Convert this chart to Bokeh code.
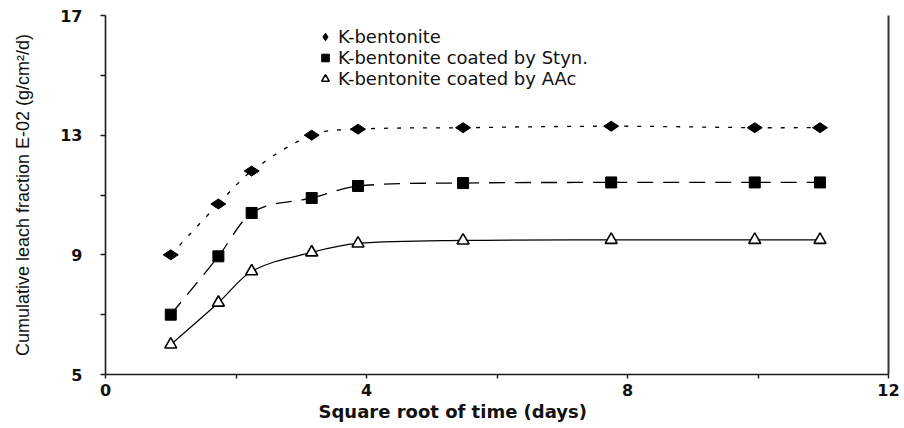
import math

from bokeh.embed import file_html
from bokeh.models import FixedTicker, Legend, LegendItem, LinearAxis, Range1d, Title
from bokeh.plotting import figure
from bokeh.resources import INLINE

# Cumulative leach fraction (E-02 g/cm2/d) against square root of time (days)
sqrt_time = [1.0, 1.73, 2.24, 3.16, 3.87, 5.48, 7.75, 9.95, 10.95]
k_bentonite = [9.0, 10.7, 11.8, 13.0, 13.2, 13.25, 13.3, 13.25, 13.25]
k_styn = [7.0, 8.95, 10.4, 10.9, 11.3, 11.4, 11.42, 11.42, 11.42]
k_aac = [6.0, 7.4, 8.45, 9.08, 9.38, 9.48, 9.5, 9.5, 9.5]

series_names = [
    "K-bentonite",
    "K-bentonite coated by Styn.",
    "K-bentonite coated by AAc",
]

x_major = [0, 4, 8, 12]
x_minor = [2, 6, 10]
y_major = [5, 9, 13, 17]
y_minor = [7, 11, 15]

TICK_FONT = "DejaVu Sans"


def smooth_segments(xs, ys):
    """Cubic Hermite pieces (as Bezier controls) passing through every point."""
    n = len(xs)
    slopes = []
    for i in range(n):
        a = max(i - 1, 0)
        b = min(i + 1, n - 1)
        slopes.append((ys[b] - ys[a]) / (xs[b] - xs[a]))
    seg = dict(x0=[], y0=[], x1=[], y1=[], cx0=[], cy0=[], cx1=[], cy1=[])
    for i in range(n - 1):
        h = xs[i + 1] - xs[i]
        seg["x0"].append(xs[i])
        seg["y0"].append(ys[i])
        seg["x1"].append(xs[i + 1])
        seg["y1"].append(ys[i + 1])
        seg["cx0"].append(xs[i] + h / 3.0)
        seg["cy0"].append(ys[i] + slopes[i] * h / 3.0)
        seg["cx1"].append(xs[i + 1] - h / 3.0)
        seg["cy1"].append(ys[i + 1] - slopes[i + 1] * h / 3.0)
    return seg


p = figure(
    width=904,
    height=428,
    x_range=Range1d(0, 12),
    y_range=Range1d(5, 17),
    output_backend="svg",
    toolbar_location=None,
    min_border_left=105,
    min_border_right=16,
    min_border_top=15,
    min_border_bottom=54,
)
p.outline_line_color = None
p.xgrid.visible = False
p.ygrid.visible = False
p.background_fill_color = "white"
p.border_fill_color = "white"

# Axes
for ax in (p.xaxis[0], p.yaxis[0]):
    ax.axis_line_color = "#1a1a1a"
    ax.axis_line_width = 1.6
    ax.major_tick_line_color = "#1a1a1a"
    ax.minor_tick_line_color = "#1a1a1a"
    ax.major_tick_line_width = 1.4
    ax.minor_tick_line_width = 1.4
    ax.major_tick_in = 0
    ax.minor_tick_in = 0
    ax.major_label_text_font = TICK_FONT
    ax.major_label_text_font_style = "bold"
    ax.major_label_text_font_size = "16px"
    ax.major_label_text_color = "#111111"

p.xaxis.ticker = FixedTicker(ticks=x_major, minor_ticks=x_minor)
p.xaxis.major_tick_out = 4
p.xaxis.minor_tick_out = 4
p.xaxis.major_label_standoff = 5

p.yaxis.ticker = FixedTicker(ticks=y_major, minor_ticks=y_minor)
p.yaxis.major_tick_out = 5
p.yaxis.minor_tick_out = 5
p.yaxis.major_label_standoff = 18
p.yaxis.axis_label = "Cumulative leach fraction E-02 (g/cm\u00b2/d)"
p.yaxis.axis_label_text_font = "Liberation Sans"
p.yaxis.axis_label_text_font_style = "normal"
p.yaxis.axis_label_text_font_size = "18px"
p.yaxis.axis_label_text_color = "#111111"
p.yaxis.axis_label_standoff = 24

# x-axis caption, set a little left of the frame centre
p.add_layout(
    Title(
        text="Square root of time (days)",
        align="left",
        offset=213,
        standoff=0,
        text_font=TICK_FONT,
        text_font_style="bold",
        text_font_size="18px",
        text_color="#111111",
    ),
    "below",
)

# Plain frame line on the right-hand side
right = LinearAxis(ticker=FixedTicker(ticks=[]))
right.axis_line_color = "#333333"
right.axis_line_width = 2
right.major_tick_line_color = None
right.minor_tick_line_color = None
p.add_layout(right, "right")

# Smoothed curves
curves = [
    (k_bentonite, "4 9", 1.3),
    (k_styn, "16 10", 1.3),
    (k_aac, "solid", 1.2),
]
for ys, dash, lw in curves:
    seg = smooth_segments(sqrt_time, ys)
    p.bezier(
        x0="x0", y0="y0", x1="x1", y1="y1",
        cx0="cx0", cy0="cy0", cx1="cx1", cy1="cy1",
        source=seg,
        line_color="black",
        line_width=lw,
        line_dash=dash,
    )

# Markers
r_k = p.scatter(
    sqrt_time, k_bentonite, marker="diamond", size=15, angle=math.pi / 2,
    fill_color="black", line_color="black",
)
r_s = p.scatter(
    sqrt_time, k_styn, marker="square", size=11,
    fill_color="black", line_color="black",
)
r_a = p.scatter(
    sqrt_time, k_aac, marker="triangle", size=12,
    fill_color="white", line_color="black", line_width=1.6,
)

legend = Legend(
    items=[
        LegendItem(label=series_names[0], renderers=[r_k]),
        LegendItem(label=series_names[1], renderers=[r_s]),
        LegendItem(label=series_names[2], renderers=[r_a]),
    ],
    location=(210, 285),
    orientation="vertical",
    border_line_color=None,
    background_fill_alpha=0,
    padding=0,
    spacing=0,
    margin=0,
    label_height=19,
    glyph_height=19,
    glyph_width=20,
    label_standoff=3,
    label_text_font=TICK_FONT,
    label_text_font_size="18px",
    label_text_color="#111111",
)
p.add_layout(legend, "center")

open("out.html", "w").write(file_html(p, INLINE))
